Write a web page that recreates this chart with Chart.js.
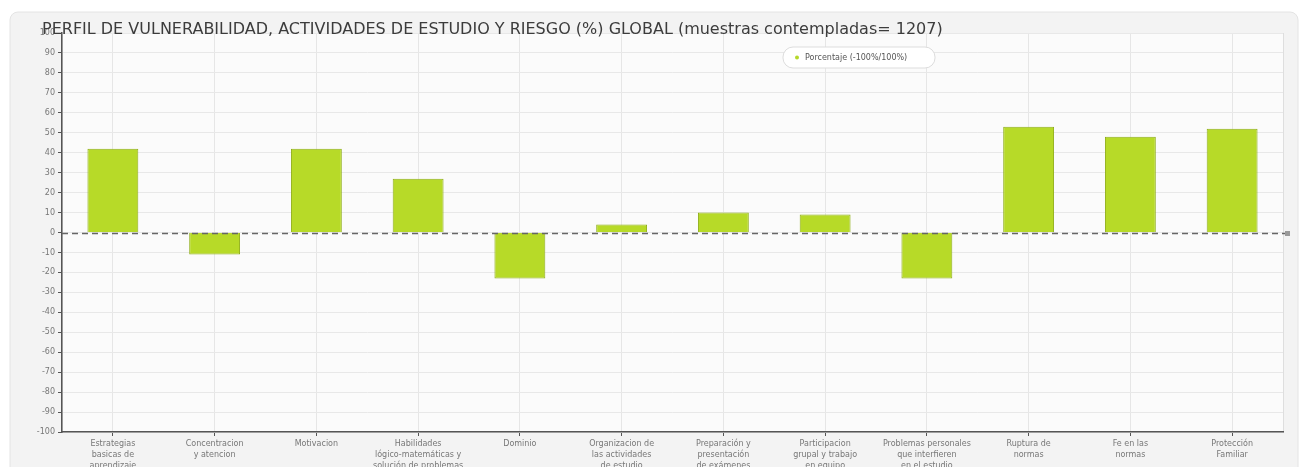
<!DOCTYPE html>
<html>
<head>
<meta charset="utf-8">
<script src="https://cdn.jsdelivr.net/npm/chart.js@4.4.1/dist/chart.umd.min.js"></script>
<style>
html,body{margin:0;padding:0;background:#fff;}
#wrap{width:1302px;height:467px;position:relative;}
</style>
</head>
<body>
<div id="wrap"><canvas id="c" width="1302" height="467"></canvas></div>
<script>
const titleText = "PERFIL DE VULNERABILIDAD, ACTIVIDADES DE ESTUDIO Y RIESGO (%) GLOBAL (muestras contempladas= 1207)";
const seriesLabel = "Porcentaje (-100%/100%)";
const categories = [
  ["Estrategias", "basicas de", "aprendizaje"],
  ["Concentracion", "y atencion"],
  ["Motivacion"],
  ["Habilidades", "lógico-matemáticas y", "solución de problemas"],
  ["Dominio"],
  ["Organizacion de", "las actividades", "de estudio"],
  ["Preparación y", "presentación", "de exámenes"],
  ["Participacion", "grupal y trabajo", "en equipo"],
  ["Problemas personales", "que interfieren", "en el estudio"],
  ["Ruptura de", "normas"],
  ["Fe en las", "normas"],
  ["Protección", "Familiar"]
];
const values = [42, -11, 42, 27, -23, 4, 10, 9, -23, 53, 48, 52];
const yMin = -100, yMax = 100, yStep = 10;

const decor = {
  id: 'decor',
  beforeDraw(chart) {
    const ctx = chart.ctx, a = chart.chartArea;
    ctx.save();
    ctx.fillStyle = '#ffffff';
    ctx.fillRect(0, 0, chart.width, chart.height);
    ctx.beginPath();
    ctx.roundRect(10, 12, 1288, 470, 8);
    ctx.fillStyle = '#f3f3f3';
    ctx.fill();
    ctx.strokeStyle = '#e4e4e4';
    ctx.lineWidth = 1;
    ctx.stroke();
    ctx.fillStyle = '#fbfbfb';
    ctx.fillRect(a.left, a.top, a.right - a.left, a.bottom - a.top);
    ctx.strokeStyle = '#dedede';
    ctx.strokeRect(a.left + 0.5, a.top + 0.5, a.right - a.left, a.bottom - a.top);
    ctx.restore();
  },
  afterDatasetsDraw(chart) {
    const ctx = chart.ctx, a = chart.chartArea;
    const y0 = Math.round(chart.scales.y.getPixelForValue(0)) + 0.5;
    ctx.save();
    ctx.strokeStyle = '#666';
    ctx.lineWidth = 1.5;
    ctx.setLineDash([6, 4]);
    ctx.beginPath();
    ctx.moveTo(a.left, y0);
    ctx.lineTo(a.right + 2, y0);
    ctx.stroke();
    ctx.setLineDash([]);
    ctx.fillStyle = '#999';
    ctx.fillRect(a.right + 2, y0 - 2.5, 5, 5);
    // legend
    const lx = 783, ly = 47, lw = 152, lh = 21;
    ctx.beginPath();
    ctx.roundRect(lx, ly, lw, lh, 10);
    ctx.fillStyle = '#ffffff';
    ctx.fill();
    ctx.strokeStyle = '#dddddd';
    ctx.lineWidth = 1;
    ctx.stroke();
    ctx.beginPath();
    ctx.arc(lx + 14, ly + lh / 2, 2, 0, Math.PI * 2);
    ctx.fillStyle = '#b5d82a';
    ctx.fill();
    ctx.fillStyle = '#555';
    ctx.font = '8px "DejaVu Sans"';
    ctx.textBaseline = 'middle';
    ctx.fillText(chart.data.datasets[0].label, lx + 22, ly + lh / 2);
    // title
    ctx.fillStyle = '#3c3c3c';
    ctx.font = '16px "DejaVu Sans"';
    ctx.textBaseline = 'alphabetic';
    ctx.fillText(titleText, 42, 34);
    ctx.restore();
  }
};

new Chart(document.getElementById('c'), {
  type: 'bar',
  data: {
    labels: categories,
    datasets: [{
      label: seriesLabel,
      data: values,
      backgroundColor: '#b7da28',
      borderColor: '#8fae18',
      borderWidth: 1,
      barPercentage: 0.5,
      categoryPercentage: 1.0
    }]
  },
  options: {
    responsive: false,
    animation: false,
    layout: { padding: { left: 10, right: 19, top: 33, bottom: 0 } },
    plugins: { legend: { display: false }, title: { display: false }, tooltip: { enabled: false } },
    scales: {
      x: {
        offset: true,
        grid: { offset: false, color: '#e6e6e6', tickColor: '#555', tickLength: 4, drawTicks: true },
        border: { color: '#555', width: 1.5 },
        ticks: { maxRotation: 0, autoSkip: false, color: '#777', font: { family: 'DejaVu Sans', size: 8, lineHeight: 1.35 }, padding: 3 },
        afterFit(s) { s.height = 35; }
      },
      y: {
        min: yMin, max: yMax,
        grid: { color: '#e8e8e8', tickColor: '#555', tickLength: 4 },
        border: { color: '#555', width: 1.5 },
        ticks: { stepSize: yStep, color: '#777', font: { family: 'DejaVu Sans', size: 8 }, padding: 3 },
        afterFit(s) { s.width = 52; }
      }
    }
  },
  plugins: [decor]
});
</script>
</body>
</html>
